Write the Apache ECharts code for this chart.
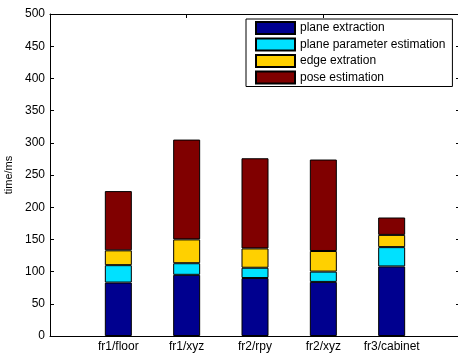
<!DOCTYPE html>
<html><head><meta charset="utf-8">
<script src="https://cdn.jsdelivr.net/npm/echarts@6/dist/echarts.min.js"></script>
<style>html,body{margin:0;padding:0;background:#fff}#c{width:458px;height:355px}</style>
</head><body><div id="c"></div>
<script>
const categories = ['', 'fr1/floor', 'fr1/xyz', 'fr2/rpy', 'fr2/xyz', 'fr3/cabinet', ''];
const planeExtraction = ['-', 83, 95, 90, 84, 108, '-'];
const planeParamEst = ['-', 27, 18, 16, 16, 30, '-'];
const edgeExtraction = ['-', 23, 37, 30, 32, 19, '-'];
const poseEstimation = ['-', 92, 155, 140, 142, 27, '-'];
const seriesNames = ['plane extraction', 'plane parameter estimation', 'edge extration', 'pose estimation'];
const yTicks = {min: 0, max: 500, step: 50};

const colors = ['#00008F', '#00E1FF', '#FFD000', '#800000'];
const font = 'Liberation Sans, Arial, Helvetica, sans-serif';
const chart = echarts.init(document.getElementById('c'));
const mk = (name, data, i) => ({
  name, type: 'bar', stack: 'total', data, barWidth: 27,
  itemStyle: {color: colors[i], borderColor: '#000', borderWidth: 1},
  emphasis: {disabled: true}
});
chart.setOption({
  animation: false,
  grid: {left: 50, top: 14, width: 410, height: 322, containLabel: false, outerBoundsMode: 'none'},
  xAxis: [
    {type: 'category', data: categories, boundaryGap: false, position: 'bottom',
     axisLine: {onZero: false, lineStyle: {color: '#000', width: 1}},
     axisTick: {inside: true, length: 4, lineStyle: {color: '#000'}},
     axisLabel: {color: '#000', fontSize: 12, fontFamily: font, margin: 5, interval: 0},
     splitLine: {show: false}},
    {type: 'category', data: categories, boundaryGap: false, position: 'top',
     axisLine: {onZero: false, lineStyle: {color: '#000', width: 1}},
     axisTick: {inside: true, length: 4, lineStyle: {color: '#000'}},
     axisLabel: {show: false}, splitLine: {show: false}}
  ],
  yAxis: [
    {type: 'value', min: yTicks.min, max: yTicks.max, interval: yTicks.step, position: 'left',
     name: 'time/ms', nameLocation: 'middle', nameGap: 33,
     nameTextStyle: {color: '#000', fontSize: 11, fontFamily: font},
     axisLine: {show: true, onZero: false, lineStyle: {color: '#000', width: 1}},
     axisTick: {show: true, inside: true, length: 4, lineStyle: {color: '#000'}},
     axisLabel: {color: '#000', fontSize: 12, fontFamily: font, margin: 5},
     splitLine: {show: false}},
    {type: 'value', min: yTicks.min, max: yTicks.max, interval: yTicks.step, position: 'right',
     axisLine: {show: true, onZero: false, lineStyle: {color: '#000', width: 1}},
     axisTick: {show: true, inside: true, length: 4, lineStyle: {color: '#000'}},
     axisLabel: {show: false}, splitLine: {show: false}}
  ],
  legend: {
    orient: 'vertical', left: 246, top: 19, padding: [2, 7, 2, 9],
    itemWidth: 39, itemHeight: 12, itemGap: 2.5,
    borderColor: '#000', borderWidth: 1, backgroundColor: '#fff',
    textStyle: {color: '#000', fontSize: 12, lineHeight: 12, fontFamily: font, padding: [0, 0, 0, 0]},
    data: seriesNames.map(n => ({name: n, icon: 'rect'}))
  },
  series: [
    mk(seriesNames[0], planeExtraction, 0),
    mk(seriesNames[1], planeParamEst, 1),
    mk(seriesNames[2], edgeExtraction, 2),
    mk(seriesNames[3], poseEstimation, 3)
  ]
});
</script></body></html>
